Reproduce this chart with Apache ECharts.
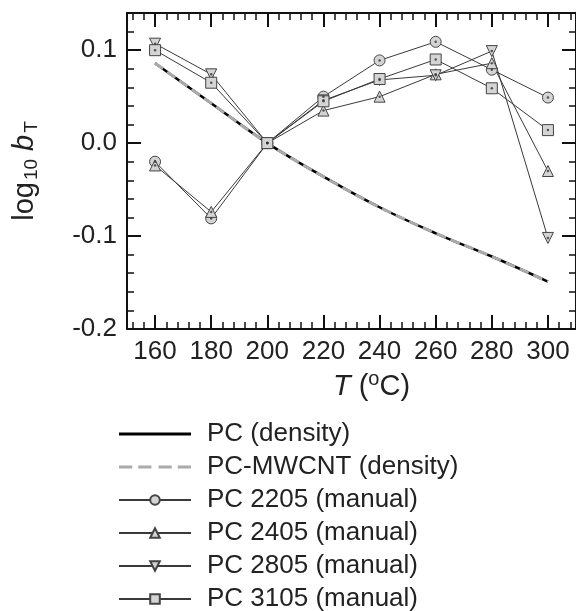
<!DOCTYPE html>
<html><head><meta charset="utf-8">
<script src="https://cdn.jsdelivr.net/npm/echarts@6/dist/echarts.min.js"></script>
<style>html,body{margin:0;padding:0;background:#fff}#c{width:576px;height:611px}</style>
</head><body><div id="c"></div>
<script>
const temps = [160, 180, 200, 220, 240, 260, 280, 300];
const pcDensity = [0.086, 0.043, 0, -0.036, -0.069, -0.097, -0.122, -0.149];
const mwcntDensity = [0.086, 0.043, 0, -0.036, -0.069, -0.097, -0.122, -0.149];
const pc2205 = [-0.020, -0.081, 0, 0.050, 0.089, 0.109, 0.079, 0.049];
const pc2405 = [-0.024, -0.074, 0, 0.035, 0.050, 0.074, 0.086, -0.030];
const pc2805 = [0.107, 0.074, 0, 0.046, 0.068, 0.073, 0.099, -0.102];
const pc3105 = [0.100, 0.065, 0, 0.045, 0.069, 0.090, 0.059, 0.014];
const names = ['PC (density)', 'PC-MWCNT (density)', 'PC 2205 (manual)', 'PC 2405 (manual)', 'PC 2805 (manual)', 'PC 3105 (manual)'];
const xMajor = [160, 180, 200, 220, 240, 260, 280, 300];
const xMinor = [152, 156, 164, 168, 172, 176, 184, 188, 192, 196, 204, 208, 212, 216, 224, 228, 232, 236, 244, 248, 252, 256, 264, 268, 272, 276, 284, 288, 292, 296, 304, 308];
const yMajor = [-0.2, -0.1, 0, 0.1];
const yMinor = [-0.18, -0.16, -0.14, -0.12, -0.08, -0.06, -0.04, -0.02, 0.02, 0.04, 0.06, 0.08, 0.12];

const pairs = arr => temps.map((t, i) => [t, arr[i]]);
const FONT = 'Liberation Sans';
const AX = '#111';

function xAx(pos, ticks, len, w, withLine, withLabel) {
  return {
    type: 'value', position: pos, min: 150, max: 310, gridIndex: 0,
    axisLine: { show: withLine, onZero: false, lineStyle: { color: AX, width: 2 } },
    axisTick: { show: true, inside: true, length: len, customValues: ticks, lineStyle: { color: AX, width: w } },
    axisLabel: { show: withLabel, customValues: ticks, fontFamily: FONT, fontSize: 26, color: '#222', margin: 10 },
    splitLine: { show: false }
  };
}
function yAx(pos, ticks, len, w, withLine, withLabel) {
  return {
    type: 'value', position: pos, min: -0.2, max: 0.14, gridIndex: 0,
    axisLine: { show: withLine, onZero: false, lineStyle: { color: AX, width: 2 } },
    axisTick: { show: true, inside: true, length: len, customValues: ticks, lineStyle: { color: AX, width: w } },
    axisLabel: { show: withLabel, customValues: ticks, fontFamily: FONT, fontSize: 26, color: '#222', margin: 10,
      formatter: v => v.toFixed(1) },
    splitLine: { show: false }
  };
}

const xs = [
  Object.assign(xAx('bottom', xMajor, 14, 2, true, true), {
    name: '{it|T} ({sup|o}C)', nameLocation: 'middle', nameGap: 36,
    nameTextStyle: { fontFamily: FONT, fontSize: 29, color: '#222', padding: [0, 0, 0, 40],
      rich: { it: { fontFamily: FONT, fontSize: 29, fontStyle: 'italic', color: '#222' },
              sup: { fontFamily: FONT, fontSize: 20, color: '#222', verticalAlign: 'top', padding: [0, 0, 14, 0] } } }
  }),
  xAx('bottom', xMinor, 7, 1.5, false, false),
  xAx('top', xMajor, 14, 2, true, false),
  xAx('top', xMinor, 7, 1.5, false, false)
];
const ys = [
  Object.assign(yAx('left', yMajor, 14, 2, true, true), {
    name: 'log{sub|10} {it|b}{sub|T}', nameLocation: 'middle', nameGap: 86,
    nameTextStyle: { fontFamily: FONT, fontSize: 29, color: '#222',
      rich: { it: { fontFamily: FONT, fontSize: 29, fontStyle: 'italic', color: '#222' },
              sub: { fontFamily: FONT, fontSize: 19, color: '#222', padding: [14, 0, 0, 2] } } }
  }),
  yAx('left', yMinor, 7, 1.5, false, false),
  yAx('right', yMajor, 14, 2, true, false),
  yAx('right', yMinor, 7, 1.5, false, false)
];

const markerStyle = { color: '#d4d4d4', borderColor: '#444', borderWidth: 1 };
const manLine = { color: '#3a3a3a', width: 1 };
function manual(name, arr, symbol, rotate) {
  return {
    name, type: 'line', data: pairs(arr), symbol, symbolSize: 11, symbolRotate: rotate || 0,
    showAllSymbol: true, lineStyle: manLine, itemStyle: markerStyle, z: 4
  };
}
function dots(arr) {
  return { type: 'scatter', data: pairs(arr), symbol: 'circle', symbolSize: 2.5,
    itemStyle: { color: '#333' }, z: 5, silent: true };
}

const solidIcon = 'path://M0,0 H72 V3 H0 Z';
const dashIcon = 'path://M0,0 H13 V3 H0 Z M19,0 H32 V3 H19 Z M39,0 H52 V3 H39 Z M58,0 H71 V3 H58 Z';

const option = {
  animation: false,
  backgroundColor: '#fff',
  grid: { left: 127, top: 13, right: -1, bottom: 282, containLabel: false },
  xAxis: xs,
  yAxis: ys,
  legend: {
    data: [
      { name: names[0], icon: solidIcon },
      { name: names[1], icon: dashIcon },
      names[2], names[3], names[4], names[5]
    ],
    orient: 'vertical', left: 118, top: 421, padding: 0, width: 400, height: 220,
    itemWidth: 72, itemHeight: 12, itemGap: 7,
    textStyle: { fontFamily: FONT, fontSize: 26, color: '#222', lineHeight: 24, padding: [0, 0, 0, 11] }
  },
  series: [
    { name: names[0], type: 'line', data: pairs(pcDensity), smooth: 0.4, symbol: 'none',
      lineStyle: { color: '#000', width: 2.5 }, itemStyle: { color: '#000' }, z: 2 },
    { name: names[1], type: 'line', data: pairs(mwcntDensity), smooth: 0.4, symbol: 'none',
      lineStyle: { color: '#aaaaaa', width: 3, type: [10, 5] }, itemStyle: { color: '#aaaaaa' }, z: 3 },
    manual(names[2], pc2205, 'circle'),
    manual(names[3], pc2405, 'triangle'),
    manual(names[4], pc2805, 'triangle', 180),
    manual(names[5], pc3105, 'rect'),
    dots(pc2205), dots(pc2405), dots(pc2805), dots(pc3105)
  ]
};
const chart = echarts.init(document.getElementById('c'), null, { renderer: 'canvas' });
chart.setOption(option);
</script></body></html>
